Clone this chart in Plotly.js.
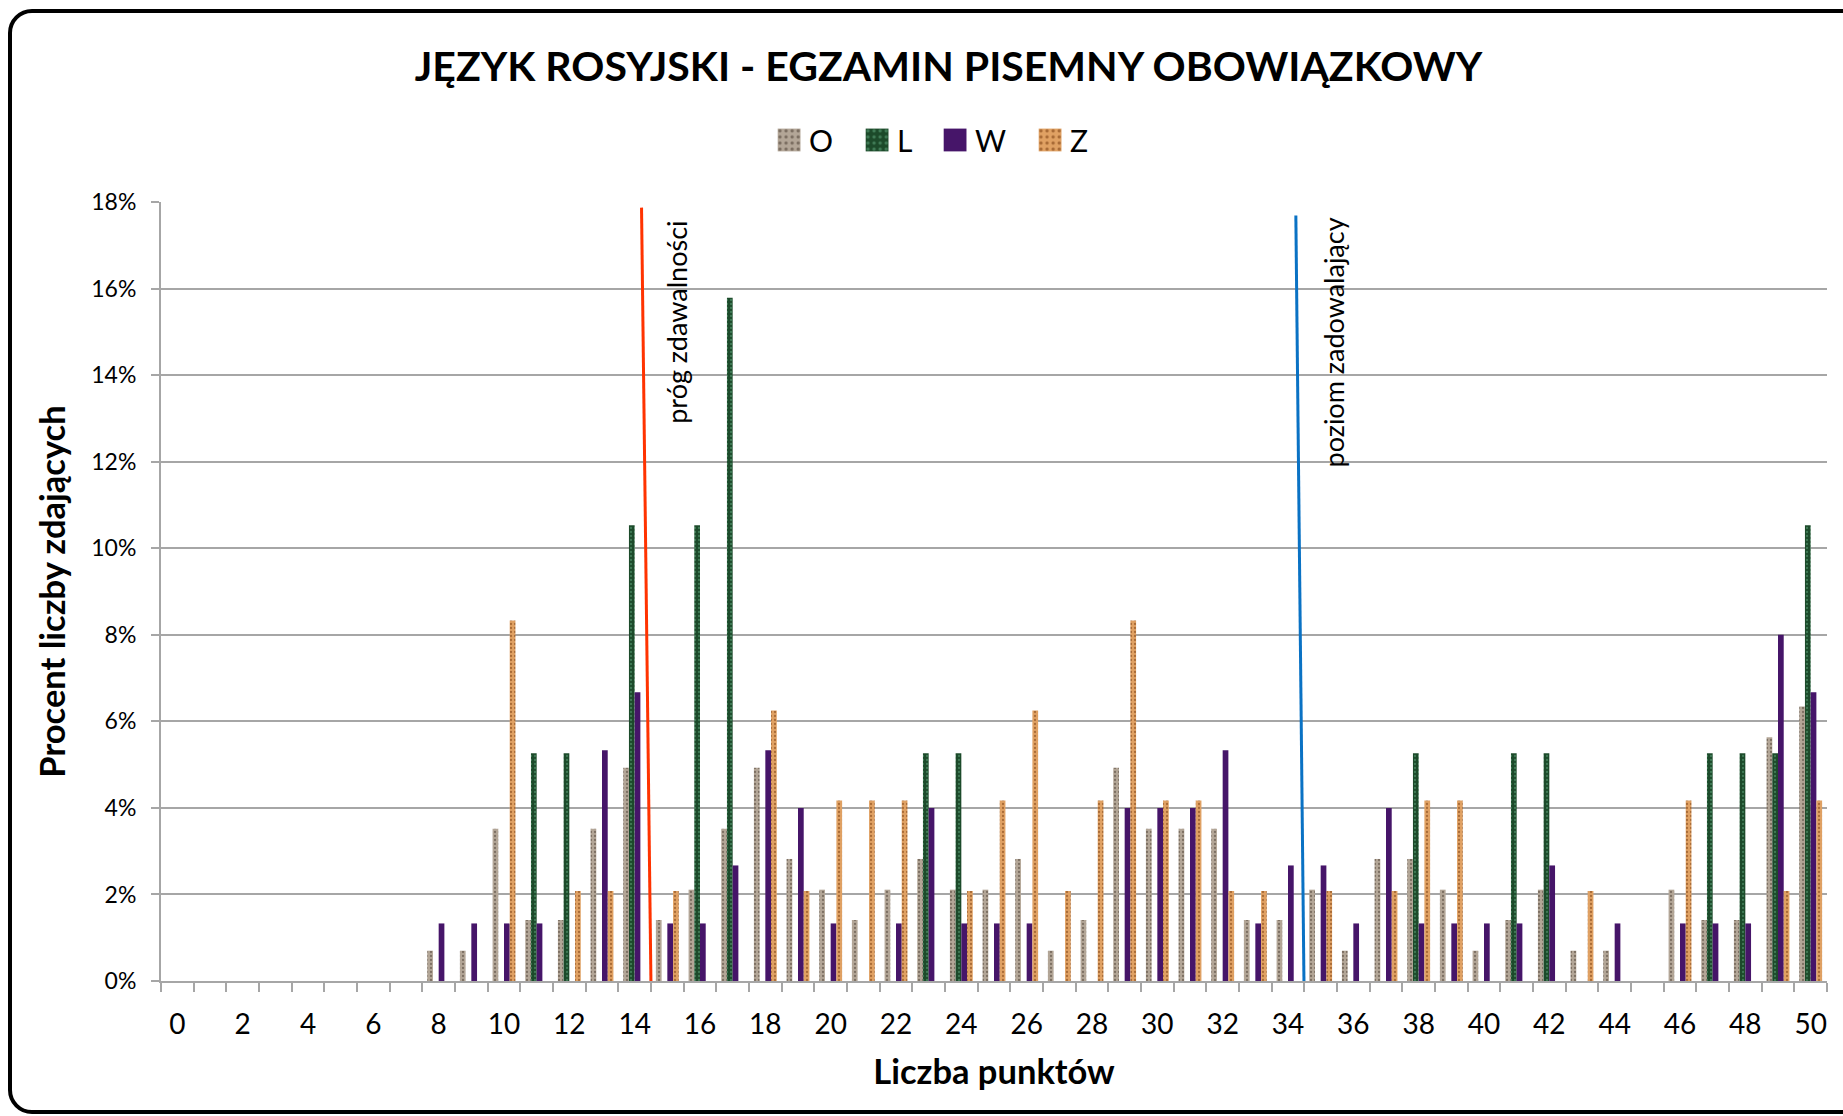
<!DOCTYPE html>
<html>
<head>
<meta charset="utf-8">
<script src="https://cdn.plot.ly/plotly-3.0.1.min.js"></script>
<style>
  html, body { margin: 0; padding: 0; background: #ffffff; overflow: hidden; }
  #frame { position: absolute; left: 8px; top: 9px; width: 1900px; height: 1105px;
           border: 4px solid #000; border-radius: 24px; box-sizing: border-box; }
  #chart { position: absolute; left: 0; top: 0; width: 1843px; height: 1116px; }
</style>
</head>
<body>
<div id="frame"></div>
<div id="chart"></div>
<script>
// Categories: number of points (0..50)
const categories = [0,1,2,3,4,5,6,7,8,9,10,11,12,13,14,15,16,17,18,19,20,21,22,23,24,25,26,27,28,29,30,31,32,33,34,35,36,37,38,39,40,41,42,43,44,45,46,47,48,49,50];
const tickValues = [0,2,4,6,8,10,12,14,16,18,20,22,24,26,28,30,32,34,36,38,40,42,44,46,48,50];
const tickLabels = ["0","2","4","6","8","10","12","14","16","18","20","22","24","26","28","30","32","34","36","38","40","42","44","46","48","50"];

// Percent of candidates, per series
const seriesO = [0,0,0,0,0,0,0,0,0.70,0.70,3.52,1.41,1.41,3.52,4.93,1.41,2.11,3.52,4.93,2.82,2.11,1.41,2.11,2.82,2.11,2.11,2.82,0.70,1.41,4.93,3.52,3.52,3.52,1.41,1.41,2.11,0.70,2.82,2.82,2.11,0.70,1.41,2.11,0.70,0.70,0,2.11,1.41,1.41,5.63,6.34];
const seriesL = [0,0,0,0,0,0,0,0,0,0,0,5.26,5.26,0,10.53,0,10.53,15.79,0,0,0,0,0,5.26,5.26,0,0,0,0,0,0,0,0,0,0,0,0,0,5.26,0,0,5.26,5.26,0,0,0,0,5.26,5.26,5.26,10.53];
const seriesW = [0,0,0,0,0,0,0,0,1.33,1.33,1.33,1.33,0,5.33,6.67,1.33,1.33,2.67,5.33,4.00,1.33,0,1.33,4.00,1.33,1.33,1.33,0,0,4.00,4.00,4.00,5.33,1.33,2.67,2.67,1.33,4.00,1.33,1.33,1.33,1.33,2.67,0,1.33,0,1.33,1.33,1.33,8.00,6.67];
const seriesZ = [0,0,0,0,0,0,0,0,0,0,8.33,0,2.08,2.08,0,2.08,0,0,6.25,2.08,4.17,4.17,4.17,0,2.08,4.17,6.25,2.08,4.17,8.33,4.17,4.17,2.08,2.08,0,2.08,0,2.08,4.17,4.17,0,0,0,2.08,0,0,4.17,0,0,2.08,4.17];

const seriesNames = ["O", "L", "W", "Z"];

// Threshold markers (points)
const thresholdPass = { label: "próg zdawalności", x0: 14.21, x1: 14.50 };
const thresholdGood = { label: "poziom zadowalający", x0: 34.24, x1: 34.49 };

const FONT = "Lato, 'Open Sans', sans-serif";
const GRID = "#a6a6a6";

function barTrace(name, values, base, fg, shape, legendWidth) {
  const t = {
    type: "bar", name: name, x: categories, y: values,
    marker: { color: base, line: { width: 0 } },
    legendwidth: legendWidth,
    hoverinfo: "x+y+name"
  };
  if (shape) {
    t.marker.pattern = { shape: shape, fgcolor: fg, bgcolor: base, size: 4, solidity: 0.25, fillmode: "replace" };
  }
  return t;
}

const data = [
  barTrace(seriesNames[0], seriesO, "#b3a697", "#7c6f62", ".", 43),
  barTrace(seriesNames[1], seriesL, "#1c4a2a", "#3f7a55", ".", 33),
  barTrace(seriesNames[2], seriesW, "#461569", "#5a1f88", "", 50),
  barTrace(seriesNames[3], seriesZ, "#e0a163", "#a96b36", ".", 30)
];

const layout = {
  width: 1843, height: 1116,
  margin: { l: 161, r: 16, t: 202, b: 135 },
  paper_bgcolor: "rgba(0,0,0,0)",
  plot_bgcolor: "rgba(0,0,0,0)",
  font: { family: FONT, color: "#000" },
  title: {
    text: "<b>JĘZYK ROSYJSKI - EGZAMIN PISEMNY OBOWIĄZKOWY</b>",
    font: { family: FONT, size: 41, color: "#000" },
    xref: "container", x: 0.5147, xanchor: "center",
    yref: "container", y: 0.94, yanchor: "middle"
  },
  showlegend: true,
  legend: {
    orientation: "h", x: 0.365, xanchor: "left", y: 1.0796, yanchor: "middle",
    font: { family: FONT, size: 30, color: "#000" },
    traceorder: "normal", itemclick: false, itemdoubleclick: false
  },
  barmode: "group",
  bargap: 0.30,
  bargroupgap: 0,
  xaxis: {
    type: "linear",
    range: [-0.5, 50.5],
    tickmode: "array", tickvals: tickValues, ticktext: tickLabels,
    ticks: "", ticklabelstandoff: 17,
    tickfont: { family: FONT, size: 28, color: "#000" },
    minor: { tickmode: "linear", tick0: -0.5, dtick: 1, ticks: "outside", ticklen: 9, tickcolor: GRID, tickwidth: 2, showgrid: false },
    showline: true, linecolor: GRID, linewidth: 2,
    showgrid: false, zeroline: false,
    title: { text: "<b>Liczba punktów</b>", font: { family: FONT, size: 34.5, color: "#000" }, standoff: 21 },
    fixedrange: true
  },
  yaxis: {
    range: [0, 18], dtick: 2, tick0: 0, ticksuffix: "%",
    ticks: "outside", ticklen: 8, tickcolor: GRID, tickwidth: 2,
    ticklabelstandoff: 10,
    tickfont: { family: FONT, size: 23, color: "#000" },
    showline: true, linecolor: GRID, linewidth: 2,
    showgrid: true, gridcolor: GRID, gridwidth: 2, zeroline: false,
    title: { text: "<b>Procent liczby zdających</b>", font: { family: FONT, size: 34.5, color: "#000" }, standoff: 15 },
    fixedrange: true
  },
  shapes: [
    { type: "line", xref: "x", yref: "y", x0: thresholdPass.x0, y0: 17.87, x1: thresholdPass.x1, y1: -0.14,
      line: { color: "#ff3300", width: 3 }, layer: "above" },
    { type: "line", xref: "x", yref: "y", x0: thresholdGood.x0, y0: 17.69, x1: thresholdGood.x1, y1: -0.10,
      line: { color: "#0a72c4", width: 3 }, layer: "above" }
  ],
  annotations: [
    { text: thresholdPass.label, xref: "x", yref: "y", x: 15.29, y: 17.62, textangle: -90,
      xanchor: "center", yanchor: "top", showarrow: false, font: { family: FONT, size: 27, color: "#000" } },
    { text: thresholdGood.label, xref: "x", yref: "y", x: 35.38, y: 17.69, textangle: -90,
      xanchor: "center", yanchor: "top", showarrow: false, font: { family: FONT, size: 27, color: "#000" } }
  ]
};

Plotly.newPlot("chart", data, layout, { displayModeBar: false, responsive: false, staticPlot: true })
  .then(function (gd) {
    // enlarge the legend swatches to match the reference's bigger squares
    gd.querySelectorAll(".legend .legendpoints path").forEach(function (p) {
      const tr = p.getAttribute("transform") || "";
      p.setAttribute("transform", tr + " scale(1.9)");
    });
  });
</script>
</body>
</html>
